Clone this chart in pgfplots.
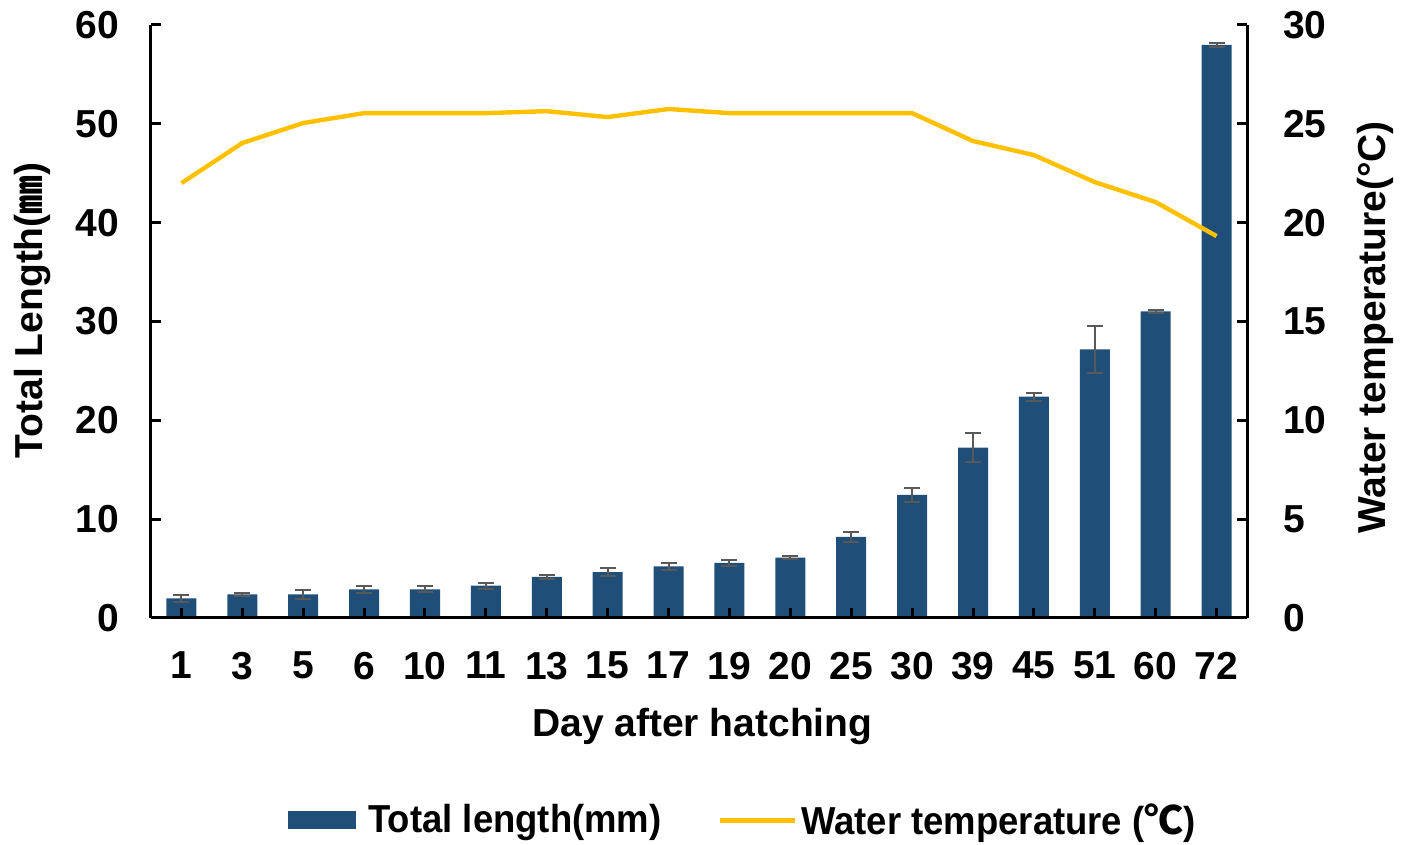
\documentclass[border=0pt]{standalone}
\usepackage{pgfplots}
\pgfplotsset{compat=1.18}
\usepackage{fontspec}
\setmainfont{Liberation Sans}
\newfontfamily\cjk{Noto Sans CJK SC}
\newfontfamily\narrowfont[FakeStretch=0.935]{Liberation Sans}
\definecolor{barblue}{RGB}{31,78,121}
\definecolor{lineyellow}{RGB}{255,192,0}
\definecolor{errgray}{RGB}{89,89,89}
\newcommand{\bigfont}{\fontsize{19.5}{23}\selectfont\bfseries}
\pgfplotstableread{
x y e
0 1.99 0.33
1 2.40 0.16
2 2.40 0.43
3 2.90 0.33
4 2.90 0.30
5 3.27 0.30
6 4.15 0.17
7 4.65 0.37
8 5.23 0.33
9 5.57 0.33
10 6.10 0.17
11 8.20 0.47
12 12.45 0.67
13 17.23 1.46
14 22.39 0.40
15 27.19 2.36
16 31.03 0.13
17 57.98 0.20
}\lengthdata
\pgfplotstableread{
x t
0 22.0
1 24.03
2 25.04
3 25.54
4 25.54
5 25.54
6 25.64
7 25.34
8 25.75
9 25.54
10 25.54
11 25.54
12 25.54
13 24.13
14 23.42
15 22.05
16 21.04
17 19.32
}\tempdata
\begin{document}
\begin{tikzpicture}
\useasboundingbox (0,0) rectangle (702.5pt,422.5pt);
\begin{axis}[
  at={(75.5pt,113.5pt)}, anchor=south west,
  width=548pt, height=296.5pt, scale only axis,
  xmin=-0.5, xmax=17.5, ymin=0, ymax=60,
  axis x line*=bottom, axis y line*=left,
  axis line style={line width=1.5pt},
  xtick={0,...,17},
  xticklabels={1,3,5,6,10,11,13,15,17,19,20,25,30,39,45,51,60,72},
  ytick={0,10,...,60},
  tick align=inside,
  major tick length=5pt,
  tick style={line width=1.5pt, black},
  ticklabel style={font=\bigfont},
  yticklabel style={xshift=-12.5pt},
  xticklabel style={yshift=-13.5pt},
  /pgf/number format/assume math mode=true,
  ylabel={Total Length({\cjk ㎜})},
  ylabel style={font=\bigfont, at={(axis description cs:-0.108,0.519)}, anchor=center},
  xlabel={Day after hatching},
  xlabel style={font=\bigfont, at={(axis description cs:0.503,-0.200)}, anchor=base},
  legend style={at={(axis description cs:0.125,-0.341)}, anchor=west, draw=none,
    font=\narrowfont\fontsize{19.5}{23}\selectfont\bfseries, inner sep=0pt,
    /tikz/every even column/.append style={column sep=26pt}},
  legend columns=2,
  axis on top,
]
\addplot[ybar, bar width=15pt, fill=barblue, draw=none,
  legend image code/.code={\fill[barblue] (0pt,-4.5pt) rectangle (34pt,4.5pt); \path (38pt,0pt);},
  error bars/.cd, y dir=both, y explicit,
  error bar style={errgray, line width=1pt},
  error mark options={rotate=90, errgray, mark size=4pt, line width=1pt}]
  table[x=x, y=y, y error=e] {\lengthdata};
\addlegendentry{Total length(mm)}
\addlegendimage{legend image code/.code={\draw[lineyellow, line width=2.5pt] (0pt,0pt) -- (37.5pt,0pt);}}
\addlegendentry{Water temperature ({\cjk ℃})}
\end{axis}
\begin{axis}[
  at={(75.5pt,113.5pt)}, anchor=south west,
  width=548pt, height=296.5pt, scale only axis,
  xmin=-0.5, xmax=17.5, ymin=0, ymax=30,
  axis x line=none, axis y line*=right,
  axis line style={line width=1.5pt},
  ytick={0,5,...,30},
  tick align=inside,
  major tick length=5pt,
  tick style={line width=1.5pt, black},
  yticklabel style={font=\bigfont, xshift=14.5pt},
  /pgf/number format/assume math mode=true,
  ylabel={Water temperature(°C)},
  ylabel style={font=\bigfont, at={(axis description cs:1.117,0.49)}, anchor=center},
]
\addplot[lineyellow, line width=2.2pt, mark=none] table[x=x, y=t] {\tempdata};
\end{axis}
\end{tikzpicture}
\end{document}
